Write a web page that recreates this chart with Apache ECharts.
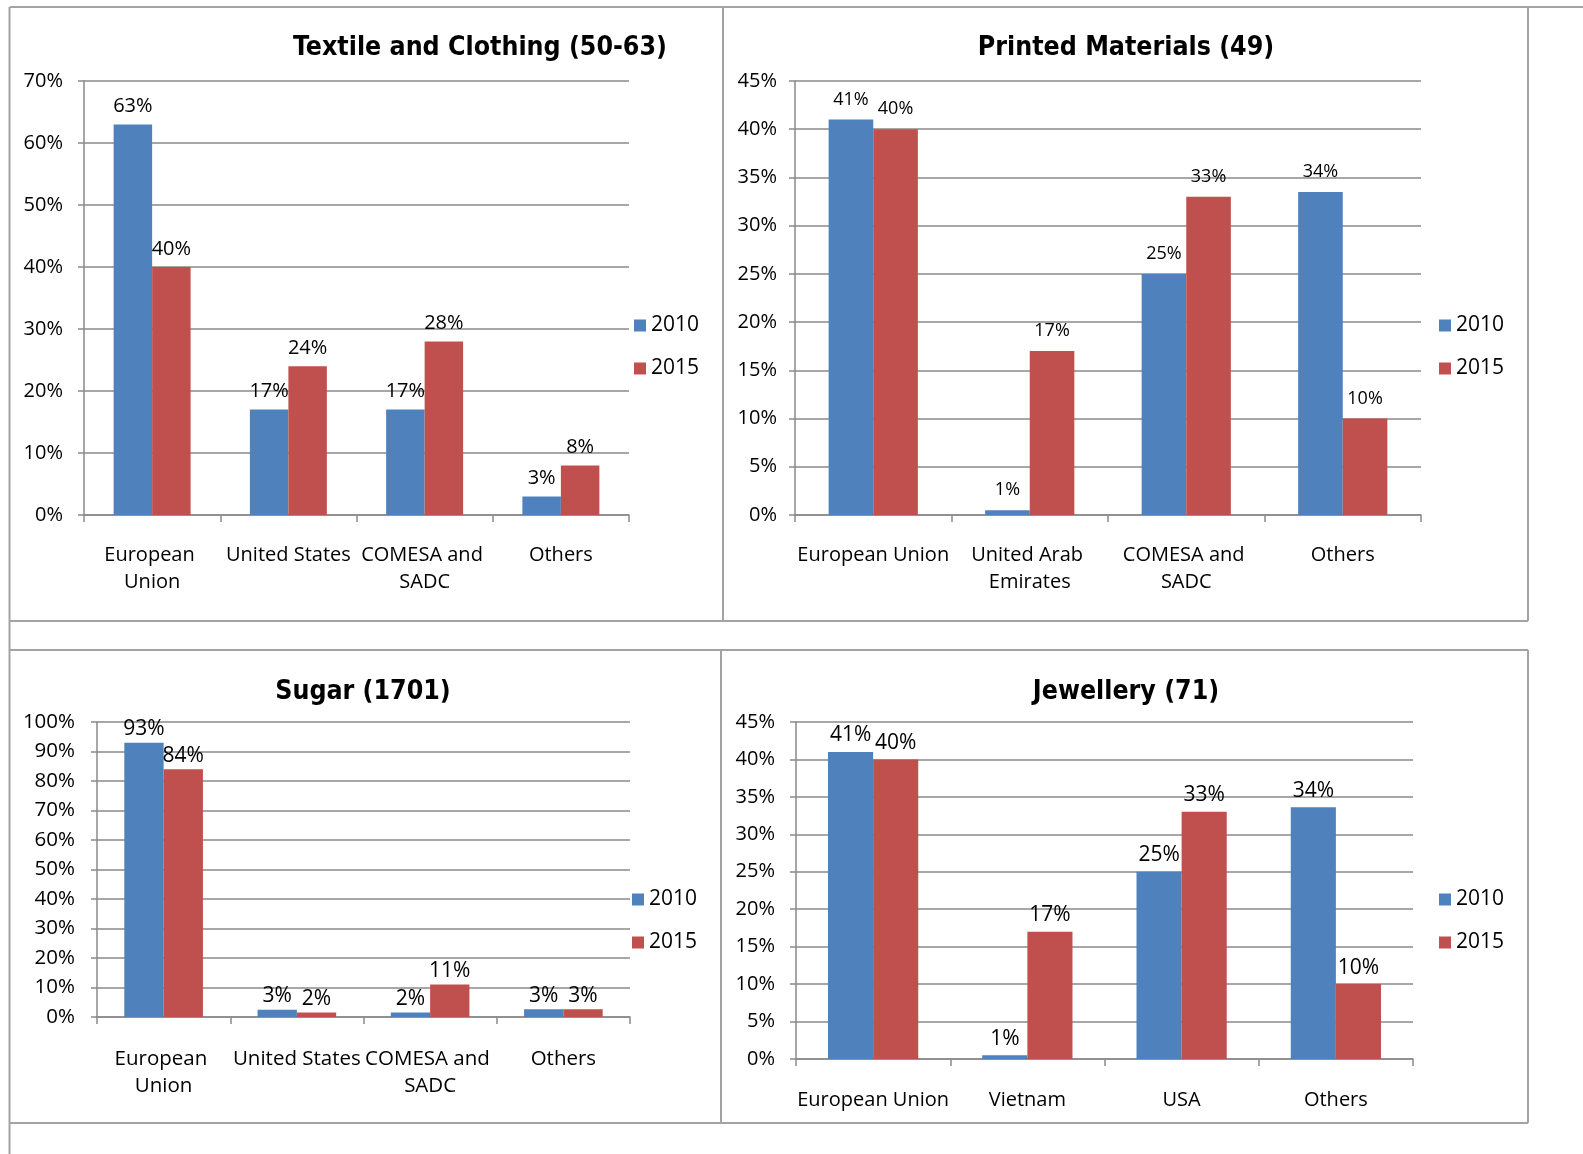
<!DOCTYPE html>
<html>
<head>
<meta charset="utf-8">
<title>Export destinations by product, 2010 vs 2015</title>
<script src="https://cdn.jsdelivr.net/npm/echarts@6/dist/echarts.min.js"></script>
<style>
  html, body { margin: 0; padding: 0; background: #ffffff; }
  #chart { width: 1583px; height: 1154px; }
</style>
</head>
<body>
<div id="chart"></div>
<script>
// Share of exports (%) by destination, 2010 and 2015
const years = ['2010', '2015'];

const textileTitle = 'Textile and Clothing (50-63)';
const textileCategories = ['European Union', 'United States', 'COMESA and SADC', 'Others'];
const textile2010 = [63, 17, 17, 3];
const textile2015 = [40, 24, 28, 8];

const printedTitle = 'Printed Materials (49)';
const printedCategories = ['European Union', 'United Arab Emirates', 'COMESA and SADC', 'Others'];
const printed2010 = [41, 0.5, 25, 33.5];
const printed2015 = [40, 17, 33, 10];

const sugarTitle = 'Sugar (1701)';
const sugarCategories = ['European Union', 'United States', 'COMESA and SADC', 'Others'];
const sugar2010 = [93, 2.5, 1.5, 2.6];
const sugar2015 = [84, 1.5, 11, 2.6];

const jewelleryTitle = 'Jewellery (71)';
const jewelleryCategories = ['European Union', 'Vietnam', 'USA', 'Others'];
const jewellery2010 = [41, 0.5, 25, 33.6];
const jewellery2015 = [40, 17, 33, 10];

// y-axis ranges (percent)
const textileAxis = { max: 70, step: 10 };
const printedAxis = { max: 45, step: 5 };
const sugarAxis = { max: 100, step: 10 };
const jewelleryAxis = { max: 45, step: 5 };

const BLUE = '#4F81BD';
const RED = '#C0504D';
const GRID_GRAY = '#8a8a8a';
const FRAME_GRAY = '#a3a3a3';
const FONT = '"Open Sans", "Noto Sans", sans-serif';
const TITLE_FONT = '"Liberation Sans Narrow", "DejaVu Sans Condensed", "Noto Sans", sans-serif';

// Layout of the four panels
const panels = [
  { title: textileTitle, cats: textileCategories, a: textile2010, b: textile2015, axis: textileAxis,
    grid: { left: 84, top: 81, width: 545, height: 434 }, titleX: 475, titleY: 30,
    legend: { left: 634, top: 315 }, yMargin: 21, xMargin: 27, axisFont: 20, labelFont: 20,
    labelDist: 8, gap: '43.5%' },
  { title: printedTitle, cats: printedCategories, a: printed2010, b: printed2015, axis: printedAxis,
    grid: { left: 795, top: 81, width: 626, height: 434 }, titleX: 1121, titleY: 30,
    legend: { left: 1439, top: 315 }, yMargin: 18, xMargin: 27, axisFont: 20, labelFont: 18,
    labelDist: 11, gap: '43%' },
  { title: sugarTitle, cats: sugarCategories, a: sugar2010, b: sugar2015, axis: sugarAxis,
    grid: { left: 97, top: 722, width: 533, height: 295 }, titleX: 358, titleY: 674,
    legend: { left: 632, top: 889 }, yMargin: 22, xMargin: 29, axisFont: 20.5, labelFont: 21,
    labelDist: 3, gap: '41%' },
  { title: jewelleryTitle, cats: jewelleryCategories, a: jewellery2010, b: jewellery2015, axis: jewelleryAxis,
    grid: { left: 796, top: 722, width: 617, height: 337 }, titleX: 1121, titleY: 674,
    legend: { left: 1439, top: 889 }, yMargin: 21, xMargin: 28, axisFont: 20, labelFont: 21,
    labelDist: 6, gap: '41.5%' }
];

const option = {
  backgroundColor: '#ffffff',
  animation: false,
  title: [],
  legend: [],
  grid: [],
  xAxis: [],
  yAxis: [],
  series: [],
  graphic: []
};

panels.forEach((p, i) => {
  option.title.push({
    text: p.title,
    left: p.titleX,
    top: p.titleY,
    textAlign: 'center',
    textStyle: { fontFamily: TITLE_FONT, fontWeight: 'bold', fontSize: 26.5, color: '#000' }
  });
  option.grid.push(Object.assign({ containLabel: false }, p.grid));
  const catWidth = p.grid.width / p.cats.length;
  option.xAxis.push({
    type: 'category',
    gridIndex: i,
    data: p.cats,
    boundaryGap: true,
    axisLine: { show: true, lineStyle: { color: GRID_GRAY, width: 1.5 } },
    axisTick: { show: true, length: 7, alignWithLabel: false, lineStyle: { color: GRID_GRAY, width: 1.5 } },
    axisLabel: {
      interval: 0,
      margin: p.xMargin,
      width: catWidth - 2,
      overflow: 'break',
      lineHeight: 27,
      fontFamily: FONT,
      fontSize: p.axisFont,
      color: '#000'
    }
  });
  option.yAxis.push({
    type: 'value',
    gridIndex: i,
    min: 0,
    max: p.axis.max,
    interval: p.axis.step,
    axisLine: { show: true, lineStyle: { color: GRID_GRAY, width: 1.5 } },
    axisTick: { show: true, length: 6, lineStyle: { color: GRID_GRAY, width: 1.5 } },
    splitLine: { show: true, lineStyle: { color: GRID_GRAY, width: 1.5 } },
    axisLabel: {
      margin: p.yMargin,
      fontFamily: FONT,
      fontSize: p.axisFont,
      color: '#000',
      formatter: v => v + '%'
    }
  });
  const label = {
    show: true,
    position: 'top',
    distance: p.labelDist,
    fontFamily: FONT,
    fontSize: p.labelFont,
    color: '#000',
    formatter: d => Math.round(d.value) + '%'
  };
  [p.a, p.b].forEach((vals, k) => {
    option.series.push({
      name: years[k],
      type: 'bar',
      xAxisIndex: i,
      yAxisIndex: i,
      data: vals,
      barGap: '0%',
      barCategoryGap: p.gap,
      itemStyle: { color: k === 0 ? BLUE : RED },
      label: label
    });
  });
  option.legend.push({
    data: years,
    orient: 'vertical',
    left: p.legend.left,
    top: p.legend.top,
    padding: 0,
    icon: 'rect',
    itemWidth: 12,
    itemHeight: 12,
    itemGap: 22,
    selectedMode: false,
    textStyle: { fontFamily: FONT, fontSize: 21, lineHeight: 20, color: '#000' }
  });
});

// Table-style frame around the four panels
const frameLines = [
  [10, 7, 1583, 7],
  [9.5, 7, 9.5, 1154],
  [723, 7, 723, 621],
  [1528, 7, 1528, 621],
  [10, 621, 1528, 621],
  [10, 650, 1528, 650],
  [721, 650, 721, 1123],
  [1528, 650, 1528, 1123],
  [10, 1123, 1528, 1123]
];
frameLines.forEach(l => {
  option.graphic.push({
    type: 'line',
    silent: true,
    shape: { x1: l[0], y1: l[1], x2: l[2], y2: l[3] },
    style: { stroke: FRAME_GRAY, lineWidth: 2 }
  });
});

const chart = echarts.init(document.getElementById('chart'), null, { renderer: 'canvas' });
chart.setOption(option);
</script>
</body>
</html>
